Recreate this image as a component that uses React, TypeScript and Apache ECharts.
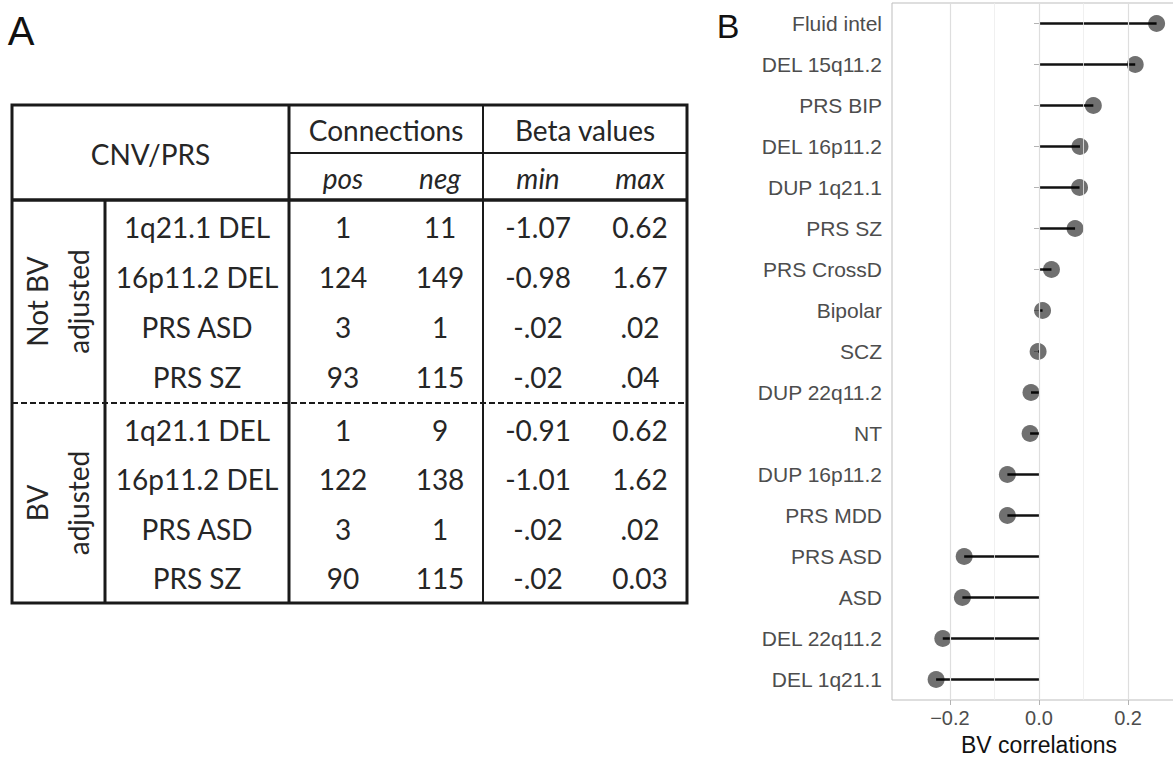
import React, { useEffect, useRef } from "react";
import * as echarts from "echarts";

// ---------- Panel B data ----------
const categories = [
  "Fluid intel", "DEL 15q11.2", "PRS BIP", "DEL 16p11.2", "DUP 1q21.1", "PRS SZ",
  "PRS CrossD", "Bipolar", "SCZ", "DUP 22q11.2", "NT", "DUP 16p11.2", "PRS MDD",
  "PRS ASD", "ASD", "DEL 22q11.2", "DEL 1q21.1",
];
const bvCorrelations = [
  0.264, 0.216, 0.122, 0.092, 0.091, 0.081, 0.028, 0.008, -0.002, -0.018, -0.02,
  -0.071, -0.071, -0.168, -0.172, -0.216, -0.231,
];
const xTickValues = [-0.2, 0, 0.2];
const majorGrid = [-0.2, 0, 0.2];
const minorGrid = [-0.1, 0.1];

// ---------- Panel A data ----------
const headerMain = "CNV/PRS";
const headerGroups = ["Connections", "Beta values"];
const headerSub = ["pos", "neg", "min", "max"];
const groupLabels = ["Not BV\nadjusted", "BV\nadjusted"];
const rowLabels = ["1q21.1 DEL", "16p11.2 DEL", "PRS ASD", "PRS SZ"];
const notAdjPos = ["1", "124", "3", "93"];
const notAdjNeg = ["11", "149", "1", "115"];
const notAdjMin = ["-1.07", "-0.98", "-.02", "-.02"];
const notAdjMax = ["0.62", "1.67", ".02", ".04"];
const adjPos = ["1", "122", "3", "90"];
const adjNeg = ["9", "138", "1", "115"];
const adjMin = ["-0.91", "-1.01", "-.02", "-.02"];
const adjMax = ["0.62", "1.62", ".02", "0.03"];

const TABLE_FONT = "Lato";
const TABLE_SIZE = 28;
const TABLE_COLOR = "#262626";
const LINE_COLOR = "#1a1a1a";

function buildTable(): any[] {
  const L = 12, R = 687, TOP = 105, MID = 153, HEAD = 200, DASH = 403, BOT = 603;
  const C1 = 105, C2 = 289, C3 = 483;
  const colCenters = [343, 440, 538, 640];
  const els: any[] = [];
  const line = (x1: number, y1: number, x2: number, y2: number, w: number, dash?: number[]) => ({
    type: "line",
    silent: true,
    shape: { x1, y1, x2, y2 },
    style: { stroke: LINE_COLOR, lineWidth: w, lineDash: dash },
  });
  const txt = (text: string, x: number, y: number, extra: any = {}) => ({
    type: "text",
    silent: true,
    x,
    y,
    style: {
      text,
      fill: TABLE_COLOR,
      fontFamily: TABLE_FONT,
      fontSize: TABLE_SIZE,
      align: "center",
      verticalAlign: "middle",
      ...extra,
    },
  });

  els.push({
    type: "rect",
    silent: true,
    shape: { x: L, y: TOP, width: R - L, height: BOT - TOP },
    style: { fill: "none", stroke: LINE_COLOR, lineWidth: 3 },
  });
  els.push(line(C2, TOP, C2, BOT, 3));
  els.push(line(C1, HEAD, C1, BOT, 3));
  els.push(line(C3, TOP, C3, BOT, 2));
  els.push(line(C2, MID, R, MID, 2.2));
  els.push(line(L, HEAD, R, HEAD, 3.5));
  els.push(line(L, DASH, R, DASH, 2, [6, 3]));

  els.push(txt(headerMain, (L + C2) / 2, (TOP + HEAD) / 2 + 1));
  els.push(txt(headerGroups[0], (C2 + C3) / 2, (TOP + MID) / 2 + 1));
  els.push(txt(headerGroups[1], (C3 + R) / 2, (TOP + MID) / 2 + 1));
  headerSub.forEach((s, i) =>
    els.push(txt(s, colCenters[i], (MID + HEAD) / 2 + 1, { fontStyle: "italic" }))
  );

  const blocks = [
    { label: groupLabels[0], y0: 227, step: 50, yc: (HEAD + DASH) / 2, cols: [notAdjPos, notAdjNeg, notAdjMin, notAdjMax] },
    { label: groupLabels[1], y0: 430, step: 49.3, yc: (DASH + BOT) / 2, cols: [adjPos, adjNeg, adjMin, adjMax] },
  ];
  blocks.forEach((b) => {
    els.push({
      type: "text",
      silent: true,
      x: (L + C1) / 2 - 1,
      y: b.yc,
      rotation: Math.PI / 2,
      style: {
        text: b.label,
        fill: TABLE_COLOR,
        fontFamily: TABLE_FONT,
        fontSize: TABLE_SIZE,
        align: "center",
        verticalAlign: "middle",
        lineHeight: 41,
      },
    });
    rowLabels.forEach((r, i) => {
      const y = b.y0 + i * b.step;
      els.push(txt(r, (C1 + C2) / 2, y));
      b.cols.forEach((col, j) => els.push(txt(col[i], colCenters[j], y)));
    });
  });

  els.push({
    type: "text",
    silent: true,
    x: 21,
    y: 31,
    style: { text: "A", fill: "#111", fontFamily: "Liberation Sans", fontSize: 40, align: "center", verticalAlign: "middle" },
  });
  els.push({
    type: "text",
    silent: true,
    x: 728,
    y: 26,
    style: { text: "B", fill: "#111", fontFamily: "Liberation Sans", fontSize: 34, align: "center", verticalAlign: "middle" },
  });
  return els;
}

const fmt = (v: number) => (v < 0 ? "\u2212" + Math.abs(v).toFixed(1) : v.toFixed(1));

export default function App() {
  const ref = useRef<HTMLDivElement>(null);
  useEffect(() => {
    if (!ref.current) return;
    const chart = echarts.init(ref.current, undefined, { renderer: "svg" });
    const gridLines = [
      ...majorGrid.map((v) => ({ xAxis: v, lineStyle: { color: "#dedede", width: 1.2, type: "solid" } })),
      ...minorGrid.map((v) => ({ xAxis: v, lineStyle: { color: "#ececec", width: 0.8, type: "solid" } })),
    ];
    chart.setOption({
      animation: false,
      backgroundColor: "#ffffff",
      grid: {
        left: 892,
        right: -13,
        top: 3,
        bottom: 58,
        show: true,
        borderColor: "#bdbdbd",
        borderWidth: 1,
        backgroundColor: "transparent",
        containLabel: false,
        outerBoundsMode: "none",
      },
      xAxis: {
        type: "value",
        min: -0.33,
        max: 0.33,
        axisLine: { show: false },
        axisTick: { show: true, customValues: xTickValues, length: 5, lineStyle: { color: "#b3b3b3" } },
        axisLabel: {
          customValues: xTickValues,
          formatter: (v: number) => fmt(v),
          color: "#4d4d4d",
          fontSize: 20,
          fontFamily: "Liberation Sans",
          margin: 8,
        },
        splitLine: { show: false },
        name: "BV correlations",
        nameLocation: "middle",
        nameGap: 37,
        nameTextStyle: { color: "#111", fontSize: 23, fontFamily: "Liberation Sans", verticalAlign: "middle", lineHeight: 24 },
      },
      yAxis: {
        type: "category",
        data: categories,
        inverse: true,
        axisLine: { show: false },
        axisTick: { show: true, alignWithLabel: true, length: 5, lineStyle: { color: "#b3b3b3" } },
        axisLabel: { color: "#4d4d4d", fontSize: 21, fontFamily: "Liberation Sans", margin: 10 },
        splitLine: { show: false },
      },
      series: [
        {
          type: "scatter",
          data: [],
          z: 1,
          silent: true,
          markLine: { silent: true, symbol: ["none", "none"], label: { show: false }, data: gridLines, animation: false },
        },
        {
          type: "bar",
          data: bvCorrelations,
          barWidth: 2.5,
          itemStyle: { color: "#111111" },
          z: 2,
        },
        {
          type: "scatter",
          data: bvCorrelations.map((v, i) => [v, categories[i]]),
          symbolSize: 17,
          itemStyle: { color: "rgba(0,0,0,0.7)" },
          z: 3,
        },
      ],
      graphic: buildTable(),
    });
    return () => chart.dispose();
  }, []);
  return <div ref={ref} style={{ position: "absolute", left: 0, top: 0, width: 1173, height: 758 }} />;
}
